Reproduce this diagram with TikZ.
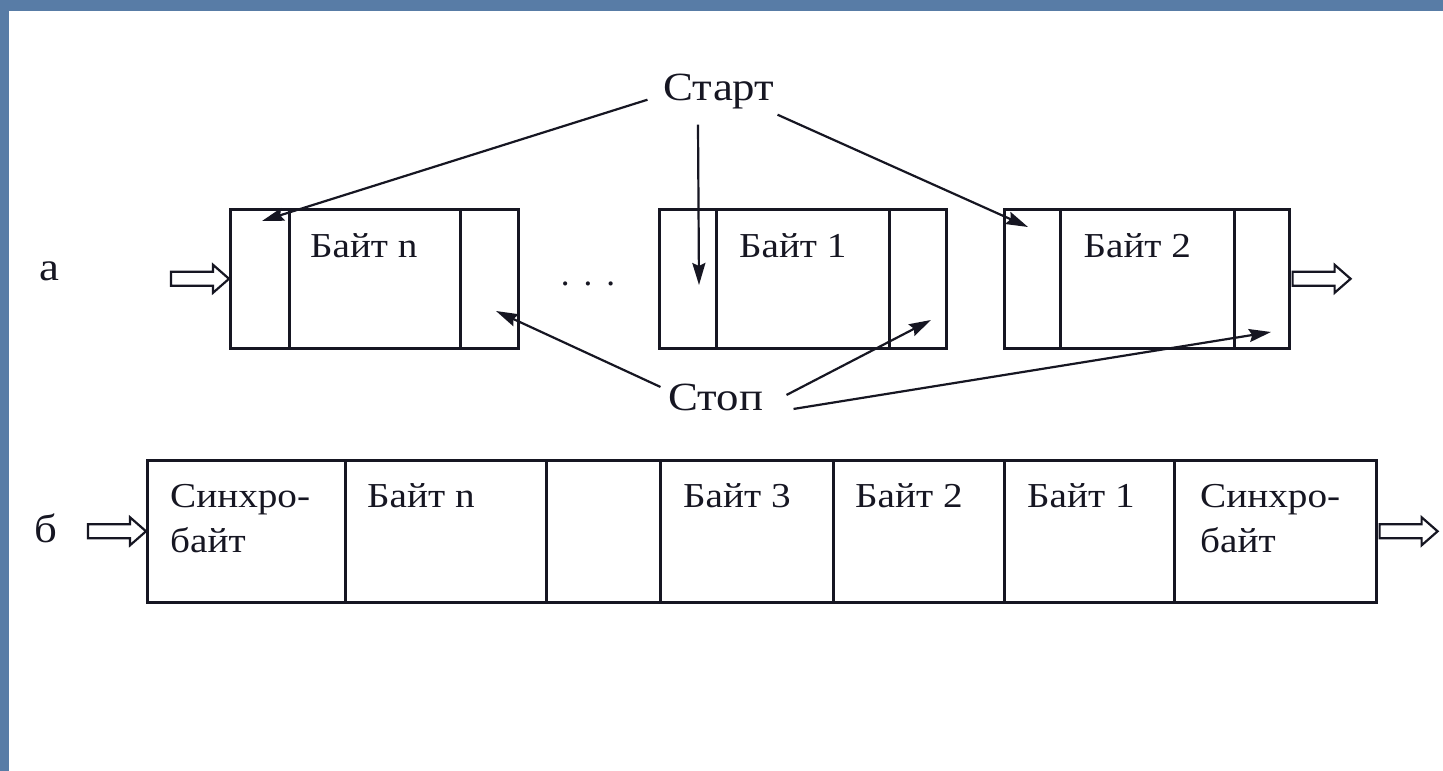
\documentclass[tikz,border=0pt]{standalone}
\usepackage{fontspec}
\setmainfont{Liberation Serif}
\usetikzlibrary{arrows.meta,calc}

\definecolor{frameblue}{RGB}{88,124,166}
\definecolor{ink}{RGB}{22,22,34}

% widened serif text for the labels
\newcommand{\widetxt}[1]{\scalebox{1.12}[1]{#1}}

\tikzset{
  cell/.style={draw=ink, line width=2.6pt, inner sep=0pt, anchor=north west,
               minimum height=#1},
  cella/.style={cell=139pt},
  cellb/.style={cell=142pt},
  bytetxt/.style={font=\fontsize{35}{45}\selectfont, inner sep=0pt, text=ink},
  bigtxt/.style={font=\fontsize{40}{44}\selectfont, inner sep=0pt, text=ink},
  ptr/.style={draw=ink, line width=2.2pt,
              -{Stealth[length=22pt,width=13pt,inset=3pt]}},
  pics/hollowarrow/.style={code={
    \draw[draw=ink, line width=2.2pt, fill=white, line join=miter]
      (-58,-7) -- (-16,-7) -- (-16,-14) -- (0,0) -- (-16,14) -- (-16,7)
      -- (-58,7) -- cycle;
  }}
}

\begin{document}
\begin{tikzpicture}[x=1pt,y=-1pt]
  % slide frame
  \fill[frameblue] (0,0) rectangle (1443,771);
  \fill[white] (9,11) rectangle (1443,771);
  \useasboundingbox (0,0) rectangle (1443,771);

  % ---------- a: asynchronous framing ----------
  \node[bigtxt] (la) at (49,271) {\widetxt{а}};

  \node[cella, minimum width=59pt]  (a1l) at (229,208) {};
  \node[cella, minimum width=171pt] (a1m) at (288,208) {};
  \node[cella, minimum width=58pt]  (a1r) at (459,208) {};

  \node[cella, minimum width=57pt]  (a2l) at (658,208) {};
  \node[cella, minimum width=173pt] (a2m) at (715,208) {};
  \node[cella, minimum width=57pt]  (a2r) at (888,208) {};

  \node[cella, minimum width=56pt]  (a3l) at (1003,208) {};
  \node[cella, minimum width=174pt] (a3m) at (1059,208) {};
  \node[cella, minimum width=55pt]  (a3r) at (1233,208) {};

  \node[bytetxt, anchor=base] (tn) at ($(a1m.north)+(-11,49)$) {\widetxt{Байт n}};
  \node[bytetxt, anchor=base] (t1) at ($(a2m.north)+(-10,49)$) {\widetxt{Байт 1}};
  \node[bytetxt, anchor=base] (t2) at ($(a3m.north)+(-10,49)$) {\widetxt{Байт 2}};

  \node[bytetxt] (dots) at (588,284) {.\hspace{14pt}.\hspace{14pt}.};

  \pic at (a1l.west) {hollowarrow};
  \pic at ($(a3r.east)+(60,0)$) {hollowarrow};

  \node[bigtxt, anchor=base] (start) at (719,100) {\widetxt{Старт}};
  \node[bigtxt, anchor=base] (stop)  at (716,410) {\widetxt{Стоп}};

  \coordinate (st1) at (262,221);
  \coordinate (st2) at (699,285);
  \coordinate (st3) at (1028,227);
  \coordinate (sp1) at (496,311);
  \coordinate (sp2) at (931,320);
  \coordinate (sp3) at (1271,332);

  \draw[ptr] ($(start.south west)+(-16,-9)$) -- (st1);
  \draw[ptr] ($(start.south)+(-21,16)$) -- (st2);
  \draw[ptr] ($(start.south east)+(3,6)$) -- (st3);

  \draw[ptr] ($(stop.west)+(-8,-10)$) -- (sp1);
  \draw[ptr] ($(stop.east)+(23,-2)$) -- (sp2);
  \draw[ptr] ($(stop.east)+(30,12)$) -- (sp3);

  % ---------- b: synchronous framing ----------
  \node[bigtxt] (lb) at (46,528) {\widetxt{б}};

  \node[cellb, minimum width=198pt] (b1) at (146,459) {};
  \node[cellb, minimum width=201pt] (b2) at (344,459) {};
  \node[cellb, minimum width=114pt] (b3) at (545,459) {};
  \node[cellb, minimum width=173pt] (b4) at (659,459) {};
  \node[cellb, minimum width=171pt] (b5) at (832,459) {};
  \node[cellb, minimum width=170pt] (b6) at (1003,459) {};
  \node[cellb, minimum width=202pt] (b7) at (1173,459) {};

  \node[bytetxt, anchor=base west, align=left] (s1) at ($(b1.north west)+(24,93)$)
    {\widetxt{Синхро-}\\\widetxt{байт}};
  \node[bytetxt, anchor=base west] (bn) at ($(b2.north west)+(23,48)$) {\widetxt{Байт n}};
  \node[bytetxt, anchor=base west] (b3t) at ($(b4.north west)+(24,48)$) {\widetxt{Байт 3}};
  \node[bytetxt, anchor=base west] (b2t) at ($(b5.north west)+(23,48)$) {\widetxt{Байт 2}};
  \node[bytetxt, anchor=base west] (b1t) at ($(b6.north west)+(24,48)$) {\widetxt{Байт 1}};
  \node[bytetxt, anchor=base west, align=left] (s2) at ($(b7.north west)+(27,93)$)
    {\widetxt{Синхро-}\\\widetxt{байт}};

  \pic at (b1.west) {hollowarrow};
  \pic at ($(b7.east)+(60,0)$) {hollowarrow};
\end{tikzpicture}
\end{document}
